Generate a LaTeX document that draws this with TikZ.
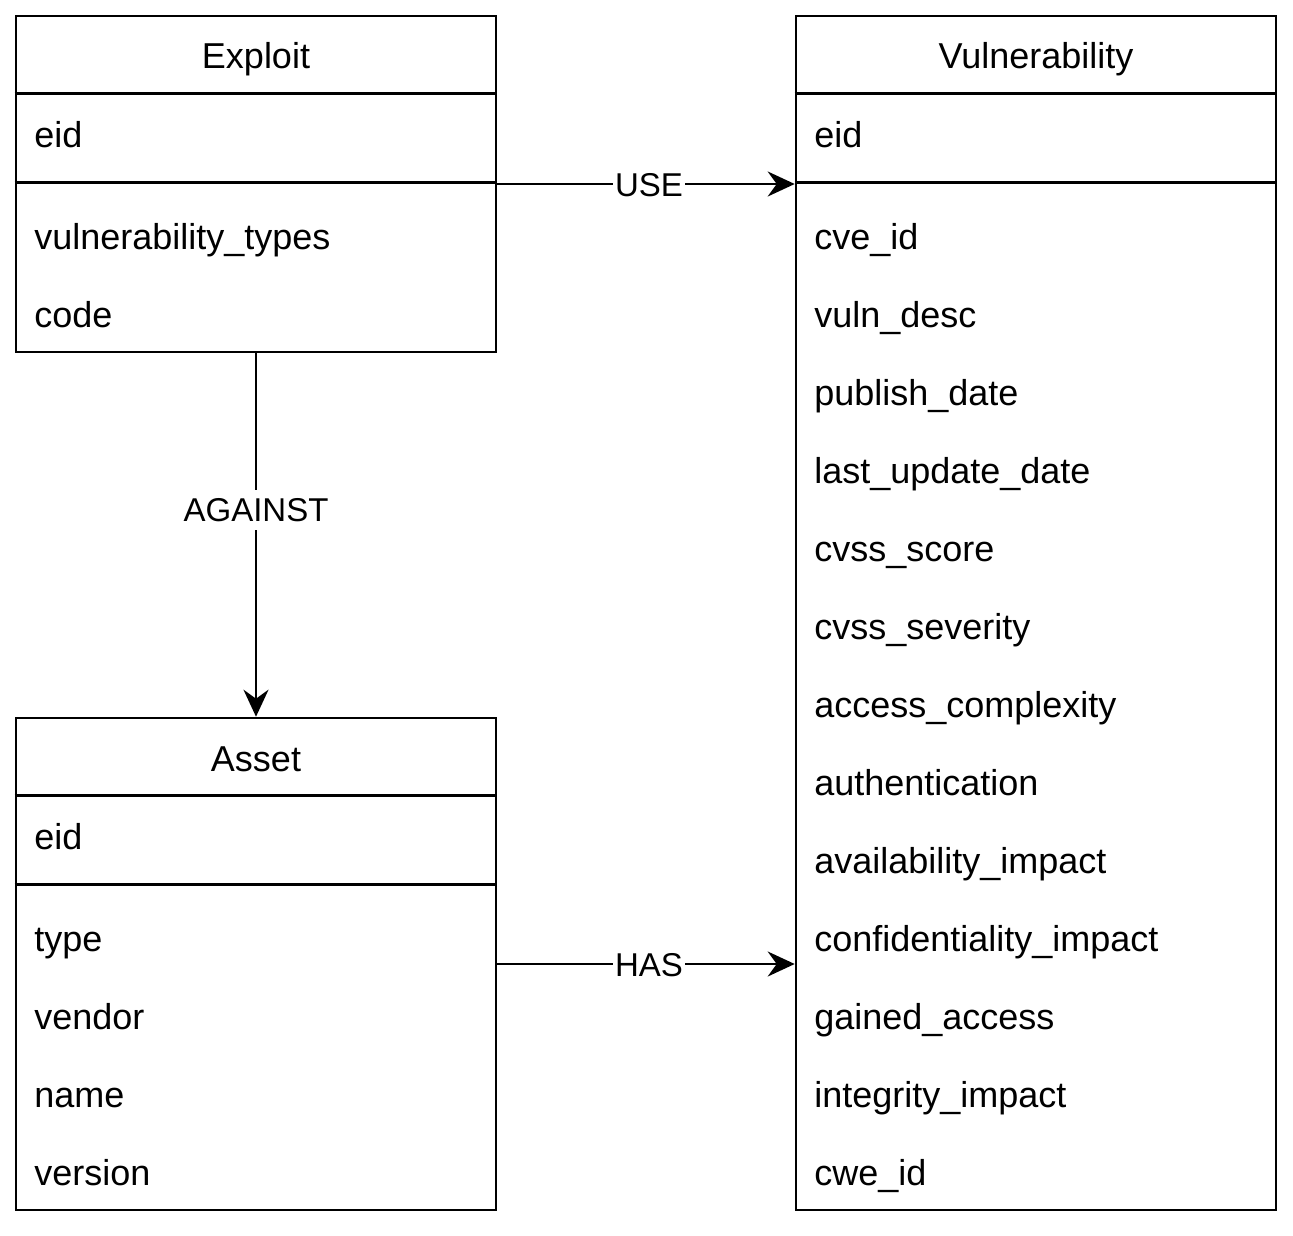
\documentclass[tikz,border=0pt]{standalone}
\usepackage{fontspec}
\setmainfont{Liberation Sans}
\usetikzlibrary{arrows.meta,positioning}

\begin{document}
\begin{tikzpicture}[x=1pt, y=-1pt, line width=2.6pt, every node/.style={font=\fontsize{36}{43}\selectfont}, entity/.style={rectangle, draw=black, minimum width=480pt, inner sep=0pt}, title/.style={minimum height=79pt, inner sep=0pt, text height=27pt, text depth=0pt}, field/.style={anchor=west, inner sep=0pt, text height=24pt, text depth=0pt}, rel/.style={font=\fontsize{33}{40}\selectfont, fill=white, inner xsep=2pt, inner ysep=8pt, text height=24pt, text depth=0pt}, line/.style={-{Stealth[length=27pt, width=25pt, inset=9pt]}}]
\useasboundingbox (0,0) rectangle (1293,1236);

% tables
\node[entity, minimum height=336pt] (exploit) at (256,184) {};
\node[entity, minimum height=1194pt] (vuln) at (1036,613) {};
\node[entity, minimum height=492pt] (asset) at (256,964) {};

\node[title, below=0pt of exploit.north] (exploittitle) {Exploit};
\node[title, below=0pt of vuln.north] (vulntitle) {Vulnerability};
\node[title, below=0pt of asset.north] (assettitle) {Asset};

% header and key separators
\foreach \tbl in {exploit, vuln, asset} {
  \draw (\tbl.north west) ++(0,79) -- ++(480,0);
  \draw (\tbl.north west) ++(0,168) -- ++(480,0);
}

% fields
\node[field] (exploiteid) at (33,135) {eid};
\node[field] (exploittypes) at (33,237) {vulnerability\_types};
\node[field] (exploitcode) at (33,315) {code};

\node[field] (vulneid) at (813,135) {eid};
\foreach \name [count=\i] in {cve\_id, vuln\_desc, publish\_date, last\_update\_date, cvss\_score, cvss\_severity, access\_complexity, authentication, availability\_impact, confidentiality\_impact, gained\_access, integrity\_impact, cwe\_id}
  \node[field] (vulnf\i) at (813,159+78*\i) {\name};

\node[field] (asseteid) at (33,837) {eid};
\foreach \name [count=\i] in {type, vendor, name, version}
  \node[field] (assetf\i) at (33,861+78*\i) {\name};

% relations
\draw[line] (exploit.east) -- (vuln.west |- exploit.east) node[rel, pos=0.51] {USE};
\draw[line] (exploit.south) -- (asset.north) node[rel, pos=0.43] {AGAINST};
\draw[line] (asset.east) -- (vuln.west |- asset.east) node[rel, pos=0.51] {HAS};
\end{tikzpicture}
\end{document}
